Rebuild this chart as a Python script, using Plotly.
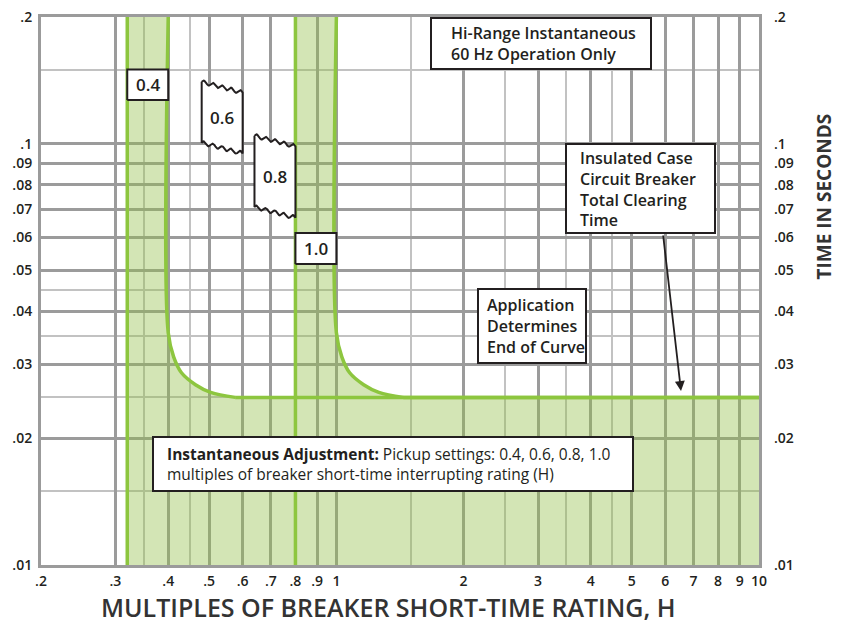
import numpy as np
import plotly.graph_objects as go

# ---------------- data ----------------
X_RANGE = [0.2, 10]
Y_RANGE = [0.01, 0.2]
X_TICKS = [0.2, 0.3, 0.4, 0.5, 0.6, 0.7, 0.8, 0.9, 1, 2, 3, 4, 5, 6, 7, 8, 9, 10]
X_TICK_TEXT = [".2", ".3", ".4", ".5", ".6", ".7", ".8", ".9", "1", "2", "3", "4",
               "5", "6", "7", "8", "9", "10"]
X_MINOR = [0.35, 0.45, 1.5, 2.5, 3.5, 4.5]
Y_TICKS = [0.01, 0.02, 0.03, 0.04, 0.05, 0.06, 0.07, 0.08, 0.09, 0.1, 0.2]
Y_TICK_TEXT = [".01", ".02", ".03", ".04", ".05", ".06", ".07", ".08", ".09", ".1", ".2"]
Y_MINOR = [0.015, 0.025, 0.035, 0.045, 0.15]

SETTINGS = [0.4, 0.6, 0.8, 1.0]
SETTING_LABELS = ["0.4", "0.6", "0.8", "1.0"]
SHADED_SETTINGS = [0.4, 1.0]
BAND_LOW_FRACTION = 0.8
LABEL_TOP = [0.150, 0.1403, 0.1045, 0.0614]
LABEL_BOTTOM = [0.127, 0.1006, 0.0708, 0.0518]
LABEL_TORN = [False, True, True, False]
TORN_SLANT = 0.943

# curve shape in multiples of pickup setting vs time (s)
CURVE_MULT = [1.0, 1.0, 1.03, 1.075, 1.16, 1.26, 1.44]
CURVE_TIME = [0.2, 0.0356, 0.0312, 0.0286, 0.0268, 0.0257, 0.025]
PLATEAU = 0.025

X_TITLE = "MULTIPLES OF BREAKER SHORT-TIME RATING, H"
Y_TITLE = "TIME IN SECONDS"

# ---------------- style ----------------
GREEN = "#8dc63f"
FILL = "rgba(145,190,70,0.4)"
GRID_MAJOR = "#9b9b9b"
GRID_MINOR = "#c2c2c2"
INK = "#231f20"
FONT = "Open Sans"

# the page has an 8px body margin on every side; keep the figure inside the
# window so no scrollbars appear, and place the plot at the reference pixels
PAGE_OFF = 8
W, H = 845 - 2 * PAGE_OFF, 634 - 2 * PAGE_OFF
PL, PR, PT, PB = 41, 759, 17, 565          # plot area in page pixels
ML, MR = PL - PAGE_OFF, (PAGE_OFF + W) - PR
MT, MB = PT - PAGE_OFF, (PAGE_OFF + H) - PB
PW, PH = PR - PL, PB - PT


def px(x):
    return (x - PL) / PW


def py(y):
    return (PB - y) / PH


fig = go.Figure()

# union fill of the shaded bands and the area under the curves
fx, fy = [], []
for i, p in enumerate(SHADED_SETTINGS):
    lo = BAND_LOW_FRACTION * p
    fx += [lo, lo]
    fy += [Y_RANGE[0] if i == 0 else PLATEAU, Y_RANGE[1]]
    fx += [p * m for m in CURVE_MULT]
    fy += list(CURVE_TIME)
fx += [X_RANGE[1], X_RANGE[1]]
fy += [PLATEAU, Y_RANGE[0]]
fig.add_trace(go.Scatter(x=fx, y=fy, mode="lines", fill="toself", fillcolor=FILL,
                         line=dict(width=0), hoverinfo="skip", showlegend=False))

# green lines
for p in SHADED_SETTINGS:
    lo = BAND_LOW_FRACTION * p
    fig.add_trace(go.Scatter(x=[lo, lo], y=Y_RANGE, mode="lines",
                             line=dict(color=GREEN, width=3.5), showlegend=False))
    fig.add_trace(go.Scatter(x=[p * m for m in CURVE_MULT], y=CURVE_TIME, mode="lines",
                             line=dict(color=GREEN, width=3.5, shape="spline", smoothing=1),
                             showlegend=False))
    fig.add_trace(go.Scatter(x=[p * CURVE_MULT[-1], X_RANGE[1]], y=[PLATEAU, PLATEAU],
                             mode="lines", line=dict(color=GREEN, width=3.5),
                             showlegend=False))

# setting label boxes
annotations = []
t = np.linspace(0, 1, 61)
for s, lab, top, bot, torn in zip(SETTINGS, SETTING_LABELS, LABEL_TOP, LABEL_BOTTOM, LABEL_TORN):
    lo, hi = BAND_LOW_FRACTION * s, s
    if torn:
        lx = np.log10(lo) + t * (np.log10(hi) - np.log10(lo))
        wave = 0.0045 * np.sin(2 * np.pi * 4.5 * t)
        top_ly = np.log10(top) + t * np.log10(TORN_SLANT) + wave
        bot_ly = np.log10(bot) + t * np.log10(TORN_SLANT) + wave
        bx = list(10 ** lx) + list(10 ** lx[::-1]) + [lo]
        by = list(10 ** top_ly) + list(10 ** bot_ly[::-1]) + [top]
        cy = np.sqrt(top * bot) * np.sqrt(TORN_SLANT)
    else:
        bx = [lo, hi, hi, lo, lo]
        by = [bot, bot, top, top, bot]
        cy = np.sqrt(top * bot)
    fig.add_trace(go.Scatter(x=bx, y=by, mode="lines", fill="toself", fillcolor="white",
                             line=dict(color=INK, width=2), hoverinfo="skip", showlegend=False))
    annotations.append(dict(x=np.log10(np.sqrt(lo * hi)), y=np.log10(cy), xref="x", yref="y",
                            xanchor="center", yanchor="middle",
                            text=lab, showarrow=False,
                            font=dict(family=FONT, size=17, color=INK, weight=600)))

# invisible trace to anchor right axis
fig.add_trace(go.Scatter(x=[1], y=[0.1], yaxis="y2", mode="markers",
                         marker=dict(opacity=0), hoverinfo="skip", showlegend=False))

# text boxes (page pixel positions converted to paper coordinates)
boxes = [
    (431, 651, 18, 69, 449, "Hi-Range Instantaneous<br>60 Hz Operation Only", 16, 600),
    (566, 715, 144, 233, 578, "Insulated Case<br>Circuit Breaker<br>Total Clearing<br>Time", 16, 600),
    (478, 586, 289, 363, 485, "Application<br>Determines<br>End of Curve", 16, 600),
    (153, 633, 437, 491, 165,
     "<b>Instantaneous Adjustment:</b> Pickup settings: 0.4, 0.6, 0.8, 1.0<br>"
     "multiples of breaker short-time interrupting rating (H)", 15.5, 400),
]
shapes = []
for x0, x1, y0, y1, tx, txt, fs, fw in boxes:
    shapes.append(dict(type="rect", xref="paper", yref="paper", x0=px(x0), x1=px(x1),
                       y0=py(y1), y1=py(y0), line=dict(color=INK, width=2),
                       fillcolor="white", layer="above"))
    annotations.append(dict(x=px(tx), y=py((y0 + y1) / 2), xref="paper", yref="paper",
                            xanchor="left", yanchor="middle", align="left", text=txt,
                            showarrow=False,
                            font=dict(family=FONT, size=fs, color=INK, weight=fw)))

# arrow from the clearing-time box to the curve
annotations.append(dict(x=px(681), y=py(391), xref="paper", yref="paper", text="",
                        showarrow=True, ax=-18, ay=-157, arrowhead=2, arrowsize=1.1,
                        arrowwidth=1.8, arrowcolor=INK))

# axis titles
annotations.append(dict(x=px(823.5), y=py(197), xref="paper", yref="paper",
                        xanchor="center", yanchor="middle", borderpad=0,
                        text=Y_TITLE, textangle=-90, showarrow=False,
                        font=dict(family=FONT, size=19, color="#333", weight=700)))
annotations.append(dict(x=px(388), y=py(625.3), xref="paper", yref="paper",
                        xanchor="center", yanchor="bottom", borderpad=0,
                        text=X_TITLE, showarrow=False,
                        font=dict(family=FONT, size=25, color="#333", weight=600)))

tickfont = dict(family=FONT, size=14, color=INK, weight=600)
yaxis_common = dict(type="log", range=[np.log10(Y_RANGE[0]), np.log10(Y_RANGE[1])],
                    tickmode="array", tickvals=Y_TICKS, ticktext=Y_TICK_TEXT,
                    tickfont=tickfont, ticks="", zeroline=False, automargin=False,
                    ticklabeloverflow="allow")

fig.update_layout(
    width=W, height=H,
    margin=dict(l=ML, r=MR, t=MT, b=MB, pad=0, autoexpand=False),
    paper_bgcolor="white", plot_bgcolor="white",
    showlegend=False,
    xaxis=dict(type="log", range=[np.log10(X_RANGE[0]), np.log10(X_RANGE[1])],
               tickmode="array", tickvals=X_TICKS, ticktext=X_TICK_TEXT,
               tickfont=tickfont, ticks="", ticklabelstandoff=1, automargin=False,
               ticklabeloverflow="allow",
               showgrid=True, gridcolor=GRID_MAJOR, gridwidth=2.5,
               minor=dict(tickvals=X_MINOR, showgrid=True, gridcolor=GRID_MINOR, gridwidth=1.5),
               showline=True, mirror=True, linecolor=GRID_MAJOR, linewidth=3,
               zeroline=False),
    yaxis=dict(**yaxis_common, side="left", ticklabelstandoff=3,
               showgrid=True, gridcolor=GRID_MAJOR, gridwidth=2.5,
               minor=dict(tickvals=Y_MINOR, showgrid=True, gridcolor=GRID_MINOR, gridwidth=1.5),
               showline=True, mirror=True, linecolor=GRID_MAJOR, linewidth=3),
    yaxis2=dict(**yaxis_common, side="right", overlaying="y", ticklabelstandoff=14,
                showgrid=False, showline=False),
    shapes=shapes,
    annotations=annotations,
)

fig.write_html("out.html")
